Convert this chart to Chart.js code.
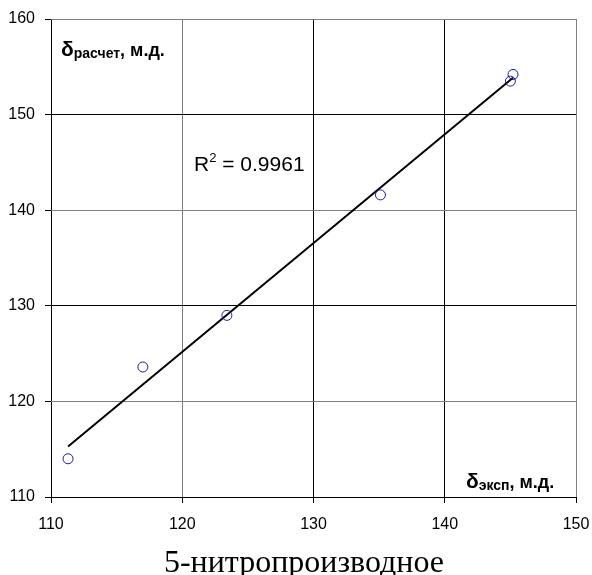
<!DOCTYPE html>
<html>
<head>
<meta charset="utf-8">
<script src="https://cdn.jsdelivr.net/npm/chart.js@4.4.0/dist/chart.umd.min.js"></script>
<style>
  html, body { margin: 0; padding: 0; background: #fff; }
  #wrap { width: 592px; height: 575px; position: relative; }
</style>
</head>
<body>
<div id="wrap"><canvas id="chart"></canvas></div>
<script>
// данные
const expShift = [111.3, 117.0, 123.4, 135.1, 145.0, 145.2];   // δ эксп
const calcShift = [114.0, 123.6, 129.0, 141.6, 153.5, 154.2];  // δ расчет
const xTicks = [110, 120, 130, 140, 150];
const yTicks = [110, 120, 130, 140, 150, 160];
const rSquared = '0.9961';
const caption = '5-нитропроизводное';

// линейный тренд (МНК) по точкам
const n = expShift.length;
const mx = expShift.reduce((a, b) => a + b, 0) / n;
const my = calcShift.reduce((a, b) => a + b, 0) / n;
let sxy = 0, sxx = 0;
expShift.forEach((x, i) => { sxy += (x - mx) * (calcShift[i] - my); sxx += (x - mx) * (x - mx); });
const slope = sxy / sxx;
const icpt = my - slope * mx;
const xMin = Math.min(...expShift), xMax = Math.max(...expShift);

const points = expShift.map((x, i) => ({ x: x, y: calcShift[i] }));
const trend = [{ x: xMin, y: icpt + slope * xMin }, { x: xMax, y: icpt + slope * xMax }];

const SANS = '"Liberation Sans", Arial, sans-serif';

function drawDelta(ctx, x, y, sub) {
  ctx.font = 'bold 21px ' + SANS;
  ctx.fillText('δ', x, y);
  x += ctx.measureText('δ').width;
  ctx.font = 'bold 14px ' + SANS;
  ctx.fillText(sub, x, y + 2);
  x += ctx.measureText(sub).width;
  ctx.font = 'bold 18px ' + SANS;
  ctx.fillText(', м.д.', x, y);
}

const labelsPlugin = {
  id: 'labels',
  afterDraw(chart) {
    const ctx = chart.ctx;
    ctx.save();
    ctx.fillStyle = '#000';
    ctx.textBaseline = 'alphabetic';
    ctx.textAlign = 'left';
    drawDelta(ctx, 61, 56, 'расчет');
    drawDelta(ctx, 466, 488, 'эксп');

    // R^2
    ctx.font = '21px ' + SANS;
    ctx.fillText('R', 194, 171);
    let x = 194 + ctx.measureText('R').width;
    ctx.font = '13px ' + SANS;
    ctx.fillText('2', x, 162);
    x += ctx.measureText('2').width;
    ctx.font = '21px ' + SANS;
    ctx.fillText(' = ' + rSquared, x, 171);

    // подпись снизу
    ctx.font = '32px "Liberation Serif", "Times New Roman", serif';
    ctx.textAlign = 'center';
    ctx.fillText(caption, 304, 572);
    ctx.restore();
  }
};

new Chart(document.getElementById('chart'), {
  type: 'scatter',
  data: {
    datasets: [
      {
        data: points,
        pointStyle: 'circle',
        pointRadius: 5,
        pointHoverRadius: 5,
        borderColor: '#1c1c9c',
        backgroundColor: 'transparent',
        borderWidth: 1,
        order: 0
      },
      {
        type: 'line',
        data: trend,
        borderColor: '#000',
        borderWidth: 2,
        pointRadius: 0,
        fill: false,
        order: 1
      }
    ]
  },
  options: {
    responsive: true,
    maintainAspectRatio: false,
    animation: false,
    layout: { padding: { top: 19, right: 16, left: 0, bottom: 0 } },
    plugins: { legend: { display: false }, tooltip: { enabled: false } },
    scales: {
      x: {
        type: 'linear',
        min: xTicks[0],
        max: xTicks[xTicks.length - 1],
        afterBuildTicks: s => { s.ticks = xTicks.map(v => ({ value: v })); },
        afterFit: s => { s.height = 78; s.paddingLeft = 0; s.paddingRight = 0; },
        border: { display: false },
        grid: {
          color: c => ([120, 150].includes(c.tick && c.tick.value) ? '#808080' : '#000'),
          lineWidth: 1,
          tickLength: 6,
          tickColor: '#000'
        },
        ticks: { color: '#000', padding: 12, font: { family: SANS, size: 16 }, maxRotation: 0 }
      },
      y: {
        type: 'linear',
        min: yTicks[0],
        max: yTicks[yTicks.length - 1],
        afterBuildTicks: s => { s.ticks = yTicks.map(v => ({ value: v })); },
        afterFit: s => { s.width = 51; s.paddingTop = 0; s.paddingBottom = 0; },
        border: { display: false },
        grid: {
          color: c => ([120, 140, 160].includes(c.tick && c.tick.value) ? '#808080' : '#000'),
          lineWidth: 1,
          tickLength: 6,
          tickColor: '#000'
        },
        ticks: { color: '#000', padding: 10, font: { family: SANS, size: 16 } }
      }
    }
  },
  plugins: [labelsPlugin]
});
</script>
</body>
</html>
